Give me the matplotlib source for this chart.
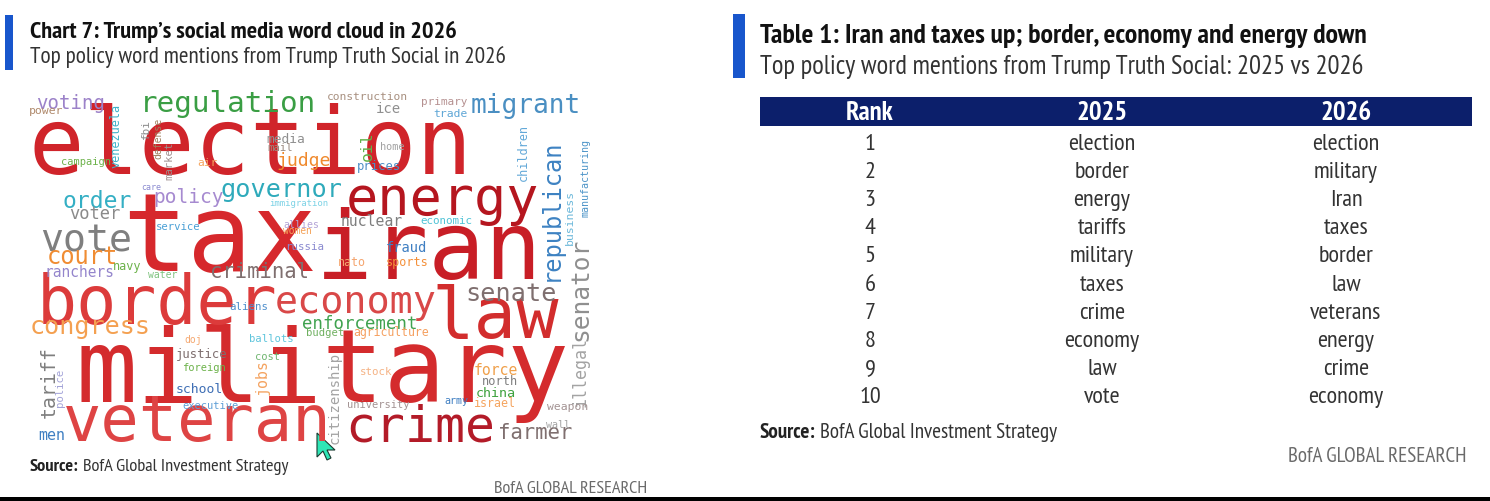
import matplotlib
matplotlib.use("Agg")
import matplotlib.pyplot as plt
from matplotlib.textpath import TextPath
from matplotlib.patches import Rectangle, Polygon
from matplotlib.font_manager import FontProperties

# ---- data ----
cloud_words = [
    "election", "tax", "iran", "military", "border", "energy", "law", "veteran",
    "crime", "economy", "regulation", "migrant", "vote", "congress", "republican",
    "senator", "illegal", "governor", "senate", "order", "policy", "court", "voting",
    "criminal", "enforcement", "tariff", "citizenship", "farmer", "judge", "ranchers",
    "voter", "nuclear", "construction", "primary", "trade", "ice", "media", "mail",
    "oil", "home", "prices", "children", "manufacturing", "business", "economic",
    "fraud", "immigration", "allies", "women", "russia", "service", "care",
    "venezuela", "fbi", "defense", "market", "campaign", "air", "power", "navy",
    "water", "aliens", "doj", "ballots", "police", "justice", "cost", "foreign",
    "jobs", "school", "executive", "men", "nato", "sports", "budget", "agriculture",
    "stock", "university", "army", "israel", "force", "north", "china", "weapon",
    "wall",
]

cloud_colors = {
    "election": "#d0242a", "tax": "#d6282c", "iran": "#c81e26", "energy": "#b5161f",
    "border": "#dc3b3b", "economy": "#d94848", "law": "#d22d2d", "military": "#d42b2d",
    "veteran": "#de4444", "crime": "#b31b28", "regulation": "#3a9e44", "voting": "#9c82c9",
    "power": "#b08a6c", "venezuela": "#3fb2c9", "fbi": "#8c8c8c", "defense": "#a07f5f",
    "market": "#a08f8f", "campaign": "#6cb24a", "air": "#f5a55f", "media": "#8f8f8f",
    "mail": "#9a8a80", "judge": "#f08a2e", "care": "#8a8ad0", "order": "#34afc4",
    "policy": "#a68ad0", "governor": "#2eaabb", "immigration": "#7fd3e6", "voter": "#8a8a8a",
    "vote": "#7f7f7f", "service": "#4aa0d6", "allies": "#b3a3d6", "women": "#f4a35a",
    "russia": "#8a8ad0", "court": "#f08c32", "construction": "#a89080", "ice": "#8f8f8f",
    "primary": "#b59090", "trade": "#5ea6d6", "migrant": "#4a8fc2", "oil": "#62b24a",
    "home": "#a3a3a3", "prices": "#4f8fc6", "children": "#62a8d8", "republican": "#3d82c2",
    "manufacturing": "#4d94c8", "business": "#6cb8da", "nuclear": "#7f7f7f",
    "economic": "#4fc3d6", "fraud": "#3f7fc2", "senator": "#8f8f8f", "illegal": "#a3a3a3",
    "navy": "#6cb24a", "ranchers": "#9485cc", "water": "#7fc27f", "criminal": "#7f6f6f",
    "aliens": "#4f8fcc", "congress": "#f4a050", "doj": "#f5a870", "ballots": "#5fc5dc",
    "tariff": "#7f7f7f", "police": "#a3a3d8", "justice": "#7f6f6f", "cost": "#6fb56f",
    "foreign": "#6cb24a", "jobs": "#f4a360", "school": "#3f6fb5", "executive": "#5f9fd6",
    "men": "#3f7fc2", "nato": "#f5a56f", "sports": "#f4903a", "senate": "#7f6f6f",
    "enforcement": "#3fa24f", "budget": "#6fb060", "agriculture": "#f5a060",
    "citizenship": "#a3a3a3", "stock": "#f5b385", "university": "#a39393", "army": "#3f7fc2",
    "israel": "#f5a560", "force": "#f0a04a", "north": "#7f7f7f", "china": "#3fa23f",
    "weapon": "#a39393", "wall": "#a3a3a3", "farmer": "#7f6f6f",
}

table_ranks = ["1", "2", "3", "4", "5", "6", "7", "8", "9", "10"]
table_2025 = ["election", "border", "energy", "tariffs", "military",
              "taxes", "crime", "economy", "law", "vote"]
table_2026 = ["election", "military", "Iran", "taxes", "border",
              "law", "veterans", "energy", "crime", "economy"]
table_headers = ["Rank", "2025", "2026"]

left_title = "Chart 7: Trump\u2019s social media word cloud in 2026"
left_subtitle = "Top policy word mentions from Trump Truth Social in 2026"
right_title = "Table 1: Iran and taxes up; border, economy and energy down"
right_subtitle = "Top policy word mentions from Trump Truth Social: 2025 vs 2026"
source_text = "BofA Global Investment Strategy"
brand_text = "BofA GLOBAL RESEARCH"

# ---- word cloud layout: ink-box centre (px), length along reading direction, vertical ----
cloud_layout = {
    "election": (249, 139, 430, False),
    "tax": (221, 234, 184, False),
    "iran": (429, 244, 210, False),
    "energy": (443, 206, 188, False),
    "border": (159, 299, 232, False),
    "economy": (356, 306, 158, False),
    "law": (498, 311, 122, False),
    "military": (323, 373, 484, False),
    "veteran": (196, 419, 260, False),
    "crime": (421, 423, 142, False),
    "farmer": (536, 431, 72, False),
    "senate": (511, 292, 87, False),
    "regulation": (229, 104, 168, False),
    "migrant": (525, 106, 106, False),
    "vote": (86, 238, 88, False),
    "congress": (90, 330, 116, False),
    "republican": (551, 208, 137, True),
    "senator": (579, 288, 100, True),
    "illegal": (581, 372, 67, True),
    "tariff": (47, 382, 69, True),
    "citizenship": (335, 398, 90, True),
    "voting": (70, 104, 66, False),
    "power": (46, 112, 33, False),
    "venezuela": (115, 136, 62, True),
    "fbi": (145, 129, 18, True),
    "defense": (158, 138, 40, True),
    "market": (168, 161, 37, True),
    "campaign": (86, 162, 48, False),
    "air": (207, 162, 19, False),
    "media": (286, 138, 37, False),
    "mail": (280, 147, 24, False),
    "judge": (304, 161, 52, False),
    "care": (152, 188, 19, False),
    "order": (98, 199, 67, False),
    "policy": (189, 198, 68, False),
    "governor": (282, 193, 119, False),
    "immigration": (299, 204, 58, False),
    "voter": (95, 213, 50, False),
    "service": (178, 226, 43, False),
    "allies": (301, 224, 34, False),
    "women": (297, 231, 28, False),
    "russia": (305, 246, 36, False),
    "court": (83, 256, 67, False),
    "construction": (367, 96, 79, False),
    "ice": (388, 108, 23, False),
    "primary": (445, 102, 45, False),
    "trade": (451, 113, 33, False),
    "oil": (366, 146, 27, True),
    "home": (392, 146, 23, False),
    "prices": (379, 167, 42, False),
    "children": (522, 152, 55, True),
    "manufacturing": (586, 178, 77, True),
    "business": (569, 217, 53, True),
    "nuclear": (372, 220, 60, False),
    "economic": (447, 220, 51, False),
    "fraud": (407, 247, 39, False),
    "navy": (128, 268, 27, False),
    "ranchers": (80, 272, 66, False),
    "water": (162, 275, 29, False),
    "criminal": (259, 270, 95, False),
    "aliens": (248, 306, 37, False),
    "doj": (192, 340, 15, False),
    "ballots": (271, 338, 42, False),
    "police": (60, 388, 37, True),
    "justice": (202, 355, 50, False),
    "cost": (267, 356, 23, False),
    "foreign": (204, 368, 42, False),
    "jobs": (263, 377, 33, True),
    "school": (200, 388, 45, False),
    "executive": (210, 405, 55, False),
    "men": (52, 436, 25, False),
    "nato": (352, 262, 26, False),
    "sports": (407, 263, 40, False),
    "enforcement": (359, 323, 112, False),
    "budget": (325, 333, 36, False),
    "agriculture": (392, 333, 75, False),
    "stock": (377, 371, 31, False),
    "university": (378, 405, 61, False),
    "army": (457, 402, 23, False),
    "israel": (495, 403, 40, False),
    "force": (496, 370, 42, False),
    "north": (500, 381, 34, False),
    "china": (496, 392, 38, False),
    "weapon": (567, 408, 40, False),
    "wall": (557, 424, 23, False),
}

W, H = 1490, 501
MONO = FontProperties(family="DejaVu Sans Mono")
NARROW = ["PT Sans Narrow", "Roboto Condensed", "Open Sans Condensed",
          "Archivo Narrow", "Asap Condensed", "DejaVu Sans"]
BLUE = "#1856cc"
NAVY = "#0c1f6b"
PX2PT = 72 / 100


def draw_word(ax, word, color, cx, cy, length, vertical):
    # place by ink box: glyph outline extents at size 1
    ext = TextPath((0, 0), word, size=1, prop=MONO).get_extents()
    size = length / ext.width
    gx = (ext.x0 + ext.width / 2) * size
    gy = (ext.y0 + ext.height / 2) * size
    if vertical:
        ox, oy, rot = cx + gy, cy + gx, 90
    else:
        ox, oy, rot = cx - gx, cy + gy, 0
    ax.text(ox, oy, word, fontsize=size * PX2PT, family="DejaVu Sans Mono",
            color=color, rotation=rot, rotation_mode="anchor",
            ha="left", va="baseline")


def fit_size(renderer, ax, s, width, **kw):
    t = ax.text(0, 0, s, fontsize=10, **kw)
    w = t.get_window_extent(renderer=renderer).width
    t.remove()
    return 10 * width / w


def fit_text(ax, renderer, x, y, s, width, **kw):
    size = fit_size(renderer, ax, s, width, **kw)
    return ax.text(x, y, s, fontsize=size, **kw)


def source_line(ax, renderer, x, y, width):
    full = "Source: " + source_text
    size = fit_size(renderer, ax, full, width, family=NARROW)
    t = ax.text(x, y, "Source:", fontsize=size, fontweight="bold", family=NARROW,
                color="#222222", va="baseline")
    bb = t.get_window_extent(renderer=renderer)
    ax.text(x + bb.width + size * 0.3, y, source_text, fontsize=size, family=NARROW,
            color="#333333", va="baseline")


fig = plt.figure(figsize=(W / 100, H / 100), dpi=100)
ax = fig.add_axes([0, 0, 1, 1])
ax.set_xlim(0, W)
ax.set_ylim(H, 0)
ax.axis("off")
renderer = fig.canvas.get_renderer()

# ---- left panel: word cloud ----
ax.add_patch(Rectangle((5, 15), 8, 55, color=BLUE, lw=0))
fit_text(ax, renderer, 30, 38, left_title, 430, fontweight="bold",
         family=NARROW, color="#111111", va="baseline")
fit_text(ax, renderer, 30, 63, left_subtitle, 477,
         family=NARROW, color="#333333", va="baseline")

for w in cloud_words:
    cx, cy, length, vertical = cloud_layout[w]
    draw_word(ax, w, cloud_colors[w], cx, cy, length, vertical)

source_line(ax, renderer, 30, 471, 257)
fit_text(ax, renderer, 647, 493, brand_text, 155, family=NARROW,
         color="#6a6a6a", va="baseline", ha="right")

# mouse pointer left on the screenshot
tip = (317, 433)
shape = [(0, 0), (0, 24), (6, 18), (10, 27), (14, 25), (10, 17), (18, 17)]
ax.add_patch(Polygon([(tip[0] + dx, tip[1] + dy) for dx, dy in shape],
                     closed=True, fc="#2ee6b6", ec="#1a3a30", lw=0.8))

# ---- right panel: table ----
ax.add_patch(Rectangle((733, 14), 12, 64, color=BLUE, lw=0))
fit_text(ax, renderer, 760, 43, right_title, 610, fontweight="bold",
         family=NARROW, color="#111111", va="baseline")
fit_text(ax, renderer, 760, 74, right_subtitle, 607,
         family=NARROW, color="#333333", va="baseline")

col_x = [870, 1102, 1346]
header_top, header_h = 97, 29
row_h = 28.2
ax.add_patch(Rectangle((760, header_top), 712, header_h, color=NAVY, lw=0))
head_size = fit_size(renderer, ax, "Rank", 48, family=NARROW, fontweight="bold")
for x, h in zip(col_x, table_headers):
    ax.text(x, header_top + header_h - 6, h, fontsize=head_size, fontweight="bold",
            family=NARROW, color="white", ha="center", va="baseline")

body_size = fit_size(renderer, ax, "economy", 75, family=NARROW)
body_top = header_top + header_h + 1
for i, (r, a, b) in enumerate(zip(table_ranks, table_2025, table_2026)):
    yb = body_top + (i + 0.5) * row_h + 8.5
    for x, s in zip(col_x, (r, a, b)):
        ax.text(x, yb, s, fontsize=body_size, family=NARROW, color="#333333",
                ha="center", va="baseline")

source_line(ax, renderer, 760, 438, 295)
fit_text(ax, renderer, 1467, 462, brand_text, 179, family=NARROW,
         color="#6a6a6a", va="baseline", ha="right")

# bottom frame line
ax.add_patch(Rectangle((0, 497), W, 4, color="black", lw=0))

fig.savefig("out.png", dpi=100, facecolor="white")
